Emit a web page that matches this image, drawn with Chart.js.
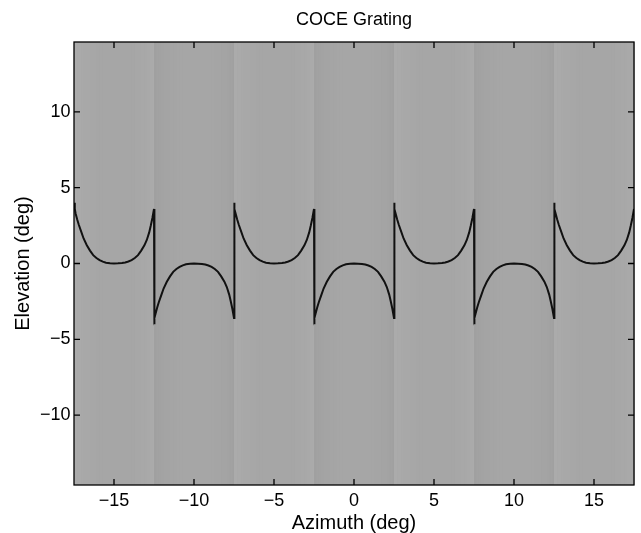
<!DOCTYPE html>
<html>
<head>
<meta charset="utf-8">
<script src="https://cdn.jsdelivr.net/npm/chart.js@4/dist/chart.umd.min.js"></script>
<style>
  body { margin: 0; background: #fff; }
</style>
</head>
<body>
<canvas id="grating" width="641" height="533"></canvas>
<script>
// azimuth samples, one row per 5 deg cycle of the grating
const azimuth = [
  -17.5, -17.45, -17.4, -17.3, -17.2, -17.05, -16.9, -16.7, -16.5, -16.3, -16.1, -15.9, -15.7, -15.5, -15.25, -15, -14.75, -14.5, -14.3, -14.1, -13.9, -13.7, -13.5, -13.3, -13.1, -12.95, -12.8, -12.7, -12.6, -12.55, -12.5,
  -12.5, -12.45, -12.4, -12.3, -12.2, -12.05, -11.9, -11.7, -11.5, -11.3, -11.1, -10.9, -10.7, -10.5, -10.25, -10, -9.75, -9.5, -9.3, -9.1, -8.9, -8.7, -8.5, -8.3, -8.1, -7.95, -7.8, -7.7, -7.6, -7.55, -7.5,
  -7.5, -7.45, -7.4, -7.3, -7.2, -7.05, -6.9, -6.7, -6.5, -6.3, -6.1, -5.9, -5.7, -5.5, -5.25, -5, -4.75, -4.5, -4.3, -4.1, -3.9, -3.7, -3.5, -3.3, -3.1, -2.95, -2.8, -2.7, -2.6, -2.55, -2.5,
  -2.5, -2.45, -2.4, -2.3, -2.2, -2.05, -1.9, -1.7, -1.5, -1.3, -1.1, -0.9, -0.7, -0.5, -0.25, 0, 0.25, 0.5, 0.7, 0.9, 1.1, 1.3, 1.5, 1.7, 1.9, 2.05, 2.2, 2.3, 2.4, 2.45, 2.5,
  2.5, 2.55, 2.6, 2.7, 2.8, 2.95, 3.1, 3.3, 3.5, 3.7, 3.9, 4.1, 4.3, 4.5, 4.75, 5, 5.25, 5.5, 5.7, 5.9, 6.1, 6.3, 6.5, 6.7, 6.9, 7.05, 7.2, 7.3, 7.4, 7.45, 7.5,
  7.5, 7.55, 7.6, 7.7, 7.8, 7.95, 8.1, 8.3, 8.5, 8.7, 8.9, 9.1, 9.3, 9.5, 9.75, 10, 10.25, 10.5, 10.7, 10.9, 11.1, 11.3, 11.5, 11.7, 11.9, 12.05, 12.2, 12.3, 12.4, 12.45, 12.5,
  12.5, 12.55, 12.6, 12.7, 12.8, 12.95, 13.1, 13.3, 13.5, 13.7, 13.9, 14.1, 14.3, 14.5, 14.75, 15, 15.25, 15.5, 15.7, 15.9, 16.1, 16.3, 16.5, 16.7, 16.9, 17.05, 17.2, 17.3, 17.4, 17.45, 17.5
];

const elevation = [
  4.0, 3.6, 3.3, 2.9, 2.55, 2.1, 1.65, 1.2, 0.85, 0.55, 0.36, 0.22, 0.12, 0.05, 0.01, 0, 0.01, 0.03, 0.07, 0.13, 0.22, 0.36, 0.55, 0.85, 1.2, 1.55, 2.05, 2.5, 3.0, 3.3, 3.6,
  -4.0, -3.6, -3.3, -2.9, -2.55, -2.1, -1.65, -1.2, -0.85, -0.55, -0.36, -0.22, -0.12, -0.05, -0.01, 0, -0.01, -0.03, -0.07, -0.13, -0.22, -0.36, -0.55, -0.85, -1.2, -1.55, -2.05, -2.5, -3.0, -3.3, -3.6,
  4.0, 3.6, 3.3, 2.9, 2.55, 2.1, 1.65, 1.2, 0.85, 0.55, 0.36, 0.22, 0.12, 0.05, 0.01, 0, 0.01, 0.03, 0.07, 0.13, 0.22, 0.36, 0.55, 0.85, 1.2, 1.55, 2.05, 2.5, 3.0, 3.3, 3.6,
  -4.0, -3.6, -3.3, -2.9, -2.55, -2.1, -1.65, -1.2, -0.85, -0.55, -0.36, -0.22, -0.12, -0.05, -0.01, 0, -0.01, -0.03, -0.07, -0.13, -0.22, -0.36, -0.55, -0.85, -1.2, -1.55, -2.05, -2.5, -3.0, -3.3, -3.6,
  4.0, 3.6, 3.3, 2.9, 2.55, 2.1, 1.65, 1.2, 0.85, 0.55, 0.36, 0.22, 0.12, 0.05, 0.01, 0, 0.01, 0.03, 0.07, 0.13, 0.22, 0.36, 0.55, 0.85, 1.2, 1.55, 2.05, 2.5, 3.0, 3.3, 3.6,
  -4.0, -3.6, -3.3, -2.9, -2.55, -2.1, -1.65, -1.2, -0.85, -0.55, -0.36, -0.22, -0.12, -0.05, -0.01, 0, -0.01, -0.03, -0.07, -0.13, -0.22, -0.36, -0.55, -0.85, -1.2, -1.55, -2.05, -2.5, -3.0, -3.3, -3.6,
  4.0, 3.6, 3.3, 2.9, 2.55, 2.1, 1.65, 1.2, 0.85, 0.55, 0.36, 0.22, 0.12, 0.05, 0.01, 0, 0.01, 0.03, 0.07, 0.13, 0.22, 0.36, 0.55, 0.85, 1.2, 1.55, 2.05, 2.5, 3.0, 3.3, 3.6
];

const xTicks = [-15, -10, -5, 0, 5, 10, 15];
const yTicks = [-10, -5, 0, 5, 10];

const FONT = 'Liberation Sans, Arial, Helvetica, sans-serif';
const minus = v => String(v).replace('-', '\u2212');

// grey luminance field behind the plot, following the grating profile
const gratingBackground = {
  id: 'gratingBackground',
  beforeDatasetsDraw(chart) {
    const {ctx, chartArea: a, scales: {x}} = chart;
    ctx.save();
    ctx.fillStyle = 'rgb(166,166,166)';
    ctx.fillRect(a.left, a.top, a.right - a.left, a.bottom - a.top);
    for (let i = 0; i < azimuth.length - 1; i++) {
      if (azimuth[i + 1] === azimuth[i]) continue;
      const x0 = x.getPixelForValue(azimuth[i]);
      const x1 = x.getPixelForValue(azimuth[i + 1]);
      const g = Math.round(166 + 1.6 * (elevation[i] + elevation[i + 1]) / 2);
      ctx.fillStyle = `rgb(${g},${g},${g})`;
      ctx.fillRect(x0, a.top, x1 - x0 + 0.6, a.bottom - a.top);
    }
    ctx.restore();
  }
};

// matlab style box with inward ticks on all four sides
const boxTicks = {
  id: 'boxTicks',
  afterDatasetsDraw(chart) {
    const {ctx, chartArea: a, scales: {x, y}} = chart;
    const len = 6;
    ctx.save();
    ctx.strokeStyle = '#000';
    ctx.lineWidth = 1.3;
    ctx.beginPath();
    xTicks.forEach(v => {
      const px = x.getPixelForValue(v);
      ctx.moveTo(px, a.bottom); ctx.lineTo(px, a.bottom - len);
      ctx.moveTo(px, a.top); ctx.lineTo(px, a.top + len);
    });
    yTicks.forEach(v => {
      const py = y.getPixelForValue(v);
      ctx.moveTo(a.left, py); ctx.lineTo(a.left + len, py);
      ctx.moveTo(a.right, py); ctx.lineTo(a.right - len, py);
    });
    ctx.stroke();
    ctx.strokeRect(a.left, a.top, a.right - a.left, a.bottom - a.top);
    ctx.restore();
  }
};

new Chart(document.getElementById('grating'), {
  type: 'line',
  data: {
    datasets: [{
      data: azimuth.map((v, i) => ({x: v, y: elevation[i]})),
      borderColor: '#111',
      borderWidth: 2,
      pointRadius: 0,
      tension: 0,
      fill: false
    }]
  },
  options: {
    responsive: false,
    animation: false,
    layout: { padding: { left: 0, right: 7, top: 0, bottom: 0 } },
    plugins: {
      legend: { display: false },
      tooltip: { enabled: false },
      title: {
        display: true,
        text: 'COCE Grating',
        fullSize: false,
        color: '#000',
        font: { family: FONT, size: 18, weight: 'normal' },
        padding: { top: 9, bottom: 11.4 }
      }
    },
    scales: {
      x: {
        type: 'linear',
        min: -17.5,
        max: 17.5,
        afterBuildTicks: s => { s.ticks = xTicks.map(v => ({value: v})); },
        afterFit: s => { s.height = 48; },
        grid: { display: false, drawTicks: false },
        border: { display: false },
        ticks: {
          color: '#000',
          padding: 5,
          font: { family: FONT, size: 18 },
          callback: minus
        },
        title: {
          display: true,
          text: 'Azimuth (deg)',
          color: '#000',
          font: { family: FONT, size: 20, lineHeight: 1 },
          padding: { top: 0, bottom: 0 }
        }
      },
      y: {
        min: -14.6,
        max: 14.6,
        afterBuildTicks: s => { s.ticks = yTicks.map(v => ({value: v})); },
        afterFit: s => { s.width = 74; },
        grid: { display: false, drawTicks: false },
        border: { display: false },
        ticks: {
          color: '#000',
          padding: 3.5,
          font: { family: FONT, size: 18 },
          callback: minus
        },
        title: {
          display: true,
          text: 'Elevation (deg)',
          color: '#000',
          font: { family: FONT, size: 20 },
          padding: { top: 11.3, bottom: 0 }
        }
      }
    }
  },
  plugins: [gratingBackground, boxTicks]
});
</script>
</body>
</html>
